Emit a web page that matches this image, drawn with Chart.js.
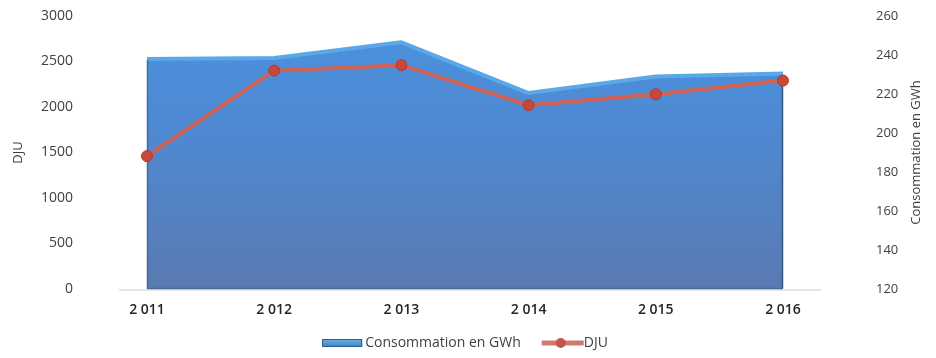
<!DOCTYPE html>
<html>
<head>
<meta charset="utf-8">
<script src="https://cdn.jsdelivr.net/npm/chart.js@4"></script>
<style>
  html, body { margin: 0; padding: 0; background: #ffffff; }
  #wrap { width: 936px; height: 358px; }
</style>
</head>
<body>
<div id="wrap"><canvas id="c" width="936" height="358"></canvas></div>
<script>
// Years on the horizontal axis
const years = ['2 011', '2 012', '2 013', '2 014', '2 015', '2 016'];
// Consumption (GWh), right-hand axis
const consommationGWh = [238, 238.5, 246.5, 220.5, 229, 230.5];
// Heating degree days, left-hand axis
const dju = [1460, 2400, 2460, 2020, 2140, 2290];
// Axis ranges
const djuMin = 0, djuMax = 3000, djuStep = 500;
const gwhMin = 120, gwhMax = 260, gwhStep = 20;

const FONT = '"Open Sans", "Liberation Sans", sans-serif';
const TEXT = '#404040';

function areaFill(ctx) {
  const chart = ctx.chart;
  const a = chart.chartArea;
  if (!a) return '#4f86cc';
  const g = chart.ctx.createLinearGradient(0, a.top, 0, a.bottom);
  g.addColorStop(0, '#4a92e0');
  g.addColorStop(0.45, '#4f88d0');
  g.addColorStop(1, '#5a7ab2');
  return g;
}

// Pale floor line under the plot
const floorPlugin = {
  id: 'floor',
  beforeDatasetsDraw(chart) {
    const { ctx, chartArea: a } = chart;
    ctx.save();
    ctx.strokeStyle = '#e6e6e6';
    ctx.lineWidth = 2;
    ctx.beginPath();
    ctx.moveTo(a.left - 28, a.bottom + 1);
    ctx.lineTo(a.right + 38, a.bottom + 1);
    ctx.stroke();
    ctx.restore();
  }
};

// Darker side and bottom edges of the consumption area
const areaEdgePlugin = {
  id: 'areaEdges',
  afterDatasetDraw(chart, args) {
    if (args.index !== 1) return;
    const pts = args.meta.data;
    if (!pts.length) return;
    const { ctx, chartArea: a } = chart;
    const first = pts[0], last = pts[pts.length - 1];
    ctx.save();
    ctx.lineWidth = 1.5;
    ctx.strokeStyle = '#4a6a96';
    ctx.beginPath();
    ctx.moveTo(first.x + 0.5, first.y + 1);
    ctx.lineTo(first.x + 0.5, a.bottom - 0.5);
    ctx.lineTo(last.x - 0.5, a.bottom - 0.5);
    ctx.stroke();
    ctx.strokeStyle = '#35577f';
    ctx.beginPath();
    ctx.moveTo(last.x - 0.5, last.y + 1);
    ctx.lineTo(last.x - 0.5, a.bottom - 0.5);
    ctx.stroke();
    ctx.restore();
  }
};

// Right axis title, read bottom-to-top
const rightTitlePlugin = {
  id: 'rightTitle',
  afterDraw(chart) {
    const { ctx, chartArea: a } = chart;
    const s = chart.scales.y1;
    ctx.save();
    ctx.translate(s.right - 20, (a.top + a.bottom) / 2);
    ctx.rotate(-Math.PI / 2);
    ctx.font = '13px ' + FONT;
    ctx.fillStyle = TEXT;
    ctx.textAlign = 'center';
    ctx.textBaseline = 'middle';
    ctx.fillText('Consommation en GWh', 0, 0);
    ctx.restore();
  }
};

// Legend row under the axis
const legendPlugin = {
  id: 'bottomLegend',
  afterDraw(chart) {
    const { ctx, chartArea: a } = chart;
    const ds = chart.data.datasets;
    const areaLabel = ds[1].label, lineLabel = ds[0].label;
    ctx.save();
    ctx.font = '14px ' + FONT;
    const w1 = ctx.measureText(areaLabel).width;
    const w2 = ctx.measureText(lineLabel).width;
    const sw = 40, lw = 42, gap = 3, itemGap = 21;
    const total = sw + gap + w1 + itemGap + lw + w2;
    let x = (a.left + a.right) / 2 - total / 2;
    const y = chart.height - 15;
    // area swatch
    const g = ctx.createLinearGradient(0, y - 4, 0, y + 4);
    g.addColorStop(0, '#6ab4ec');
    g.addColorStop(1, '#3f7fc0');
    ctx.fillStyle = g;
    ctx.fillRect(x, y - 4, sw, 8);
    ctx.strokeStyle = '#2f5c88';
    ctx.lineWidth = 1;
    ctx.strokeRect(x + 0.5, y - 3.5, sw - 1, 7);
    x += sw + gap;
    ctx.fillStyle = TEXT;
    ctx.textBaseline = 'middle';
    ctx.fillText(areaLabel, x, y);
    x += w1 + itemGap;
    // line swatch with marker
    ctx.strokeStyle = '#cf7a70';
    ctx.lineWidth = 5;
    ctx.beginPath();
    ctx.moveTo(x, y);
    ctx.lineTo(x + lw, y);
    ctx.stroke();
    ctx.fillStyle = '#c4574b';
    ctx.beginPath();
    ctx.arc(x + lw / 2 - 2, y, 5, 0, Math.PI * 2);
    ctx.fill();
    x += lw;
    ctx.fillStyle = TEXT;
    ctx.fillText(lineLabel, x, y);
    ctx.restore();
  }
};

const plainNumber = v => String(v);

new Chart(document.getElementById('c'), {
  data: {
    labels: years,
    datasets: [
      {
        type: 'line',
        label: 'DJU',
        data: dju,
        yAxisID: 'y',
        order: 0,
        borderColor: '#cf6253',
        borderWidth: 4,
        tension: 0,
        pointRadius: 5.5,
        pointBackgroundColor: '#c8463a',
        pointBorderColor: '#b03b30',
        pointBorderWidth: 1,
        fill: false
      },
      {
        type: 'line',
        label: 'Consommation en GWh',
        data: consommationGWh,
        yAxisID: 'y1',
        order: 1,
        borderColor: '#58a8ea',
        borderWidth: 4,
        borderJoinStyle: 'round',
        backgroundColor: areaFill,
        pointRadius: 0,
        tension: 0,
        fill: 'start'
      }
    ]
  },
  options: {
    responsive: false,
    devicePixelRatio: 1,
    animation: false,
    layout: { padding: { top: 16, left: 0, right: 0, bottom: 0 } },
    plugins: {
      legend: { display: false },
      tooltip: { enabled: false }
    },
    scales: {
      x: {
        type: 'category',
        offset: false,
        grid: { display: false, drawTicks: true, tickLength: 12 },
        border: { display: false },
        ticks: {
          padding: 1,
          color: '#262626',
          font: { family: FONT, size: 14, weight: '600' },
          maxRotation: 0,
          autoSkip: false
        },
        afterFit(s) { s.height = 69; }
      },
      y: {
        position: 'left',
        min: djuMin,
        max: djuMax,
        grid: { display: false, drawTicks: true, tickLength: 73 },
        border: { display: false },
        ticks: {
          stepSize: djuStep,
          padding: 1,
          color: TEXT,
          font: { family: FONT, size: 14 },
          callback: plainNumber
        },
        title: {
          display: true,
          text: 'DJU',
          color: TEXT,
          font: { family: FONT, size: 13 },
          padding: { top: 10, bottom: 0 }
        },
        afterFit(s) { s.width = 147; }
      },
      y1: {
        position: 'right',
        min: gwhMin,
        max: gwhMax,
        grid: { display: false, drawTicks: true, tickLength: 92 },
        border: { display: false },
        ticks: {
          stepSize: gwhStep,
          padding: 1,
          color: TEXT,
          font: { family: FONT, size: 13 },
          callback: plainNumber
        },
        afterFit(s) { s.width = 153; }
      }
    }
  },
  plugins: [floorPlugin, areaEdgePlugin, rightTitlePlugin, legendPlugin]
});
</script>
</body>
</html>
